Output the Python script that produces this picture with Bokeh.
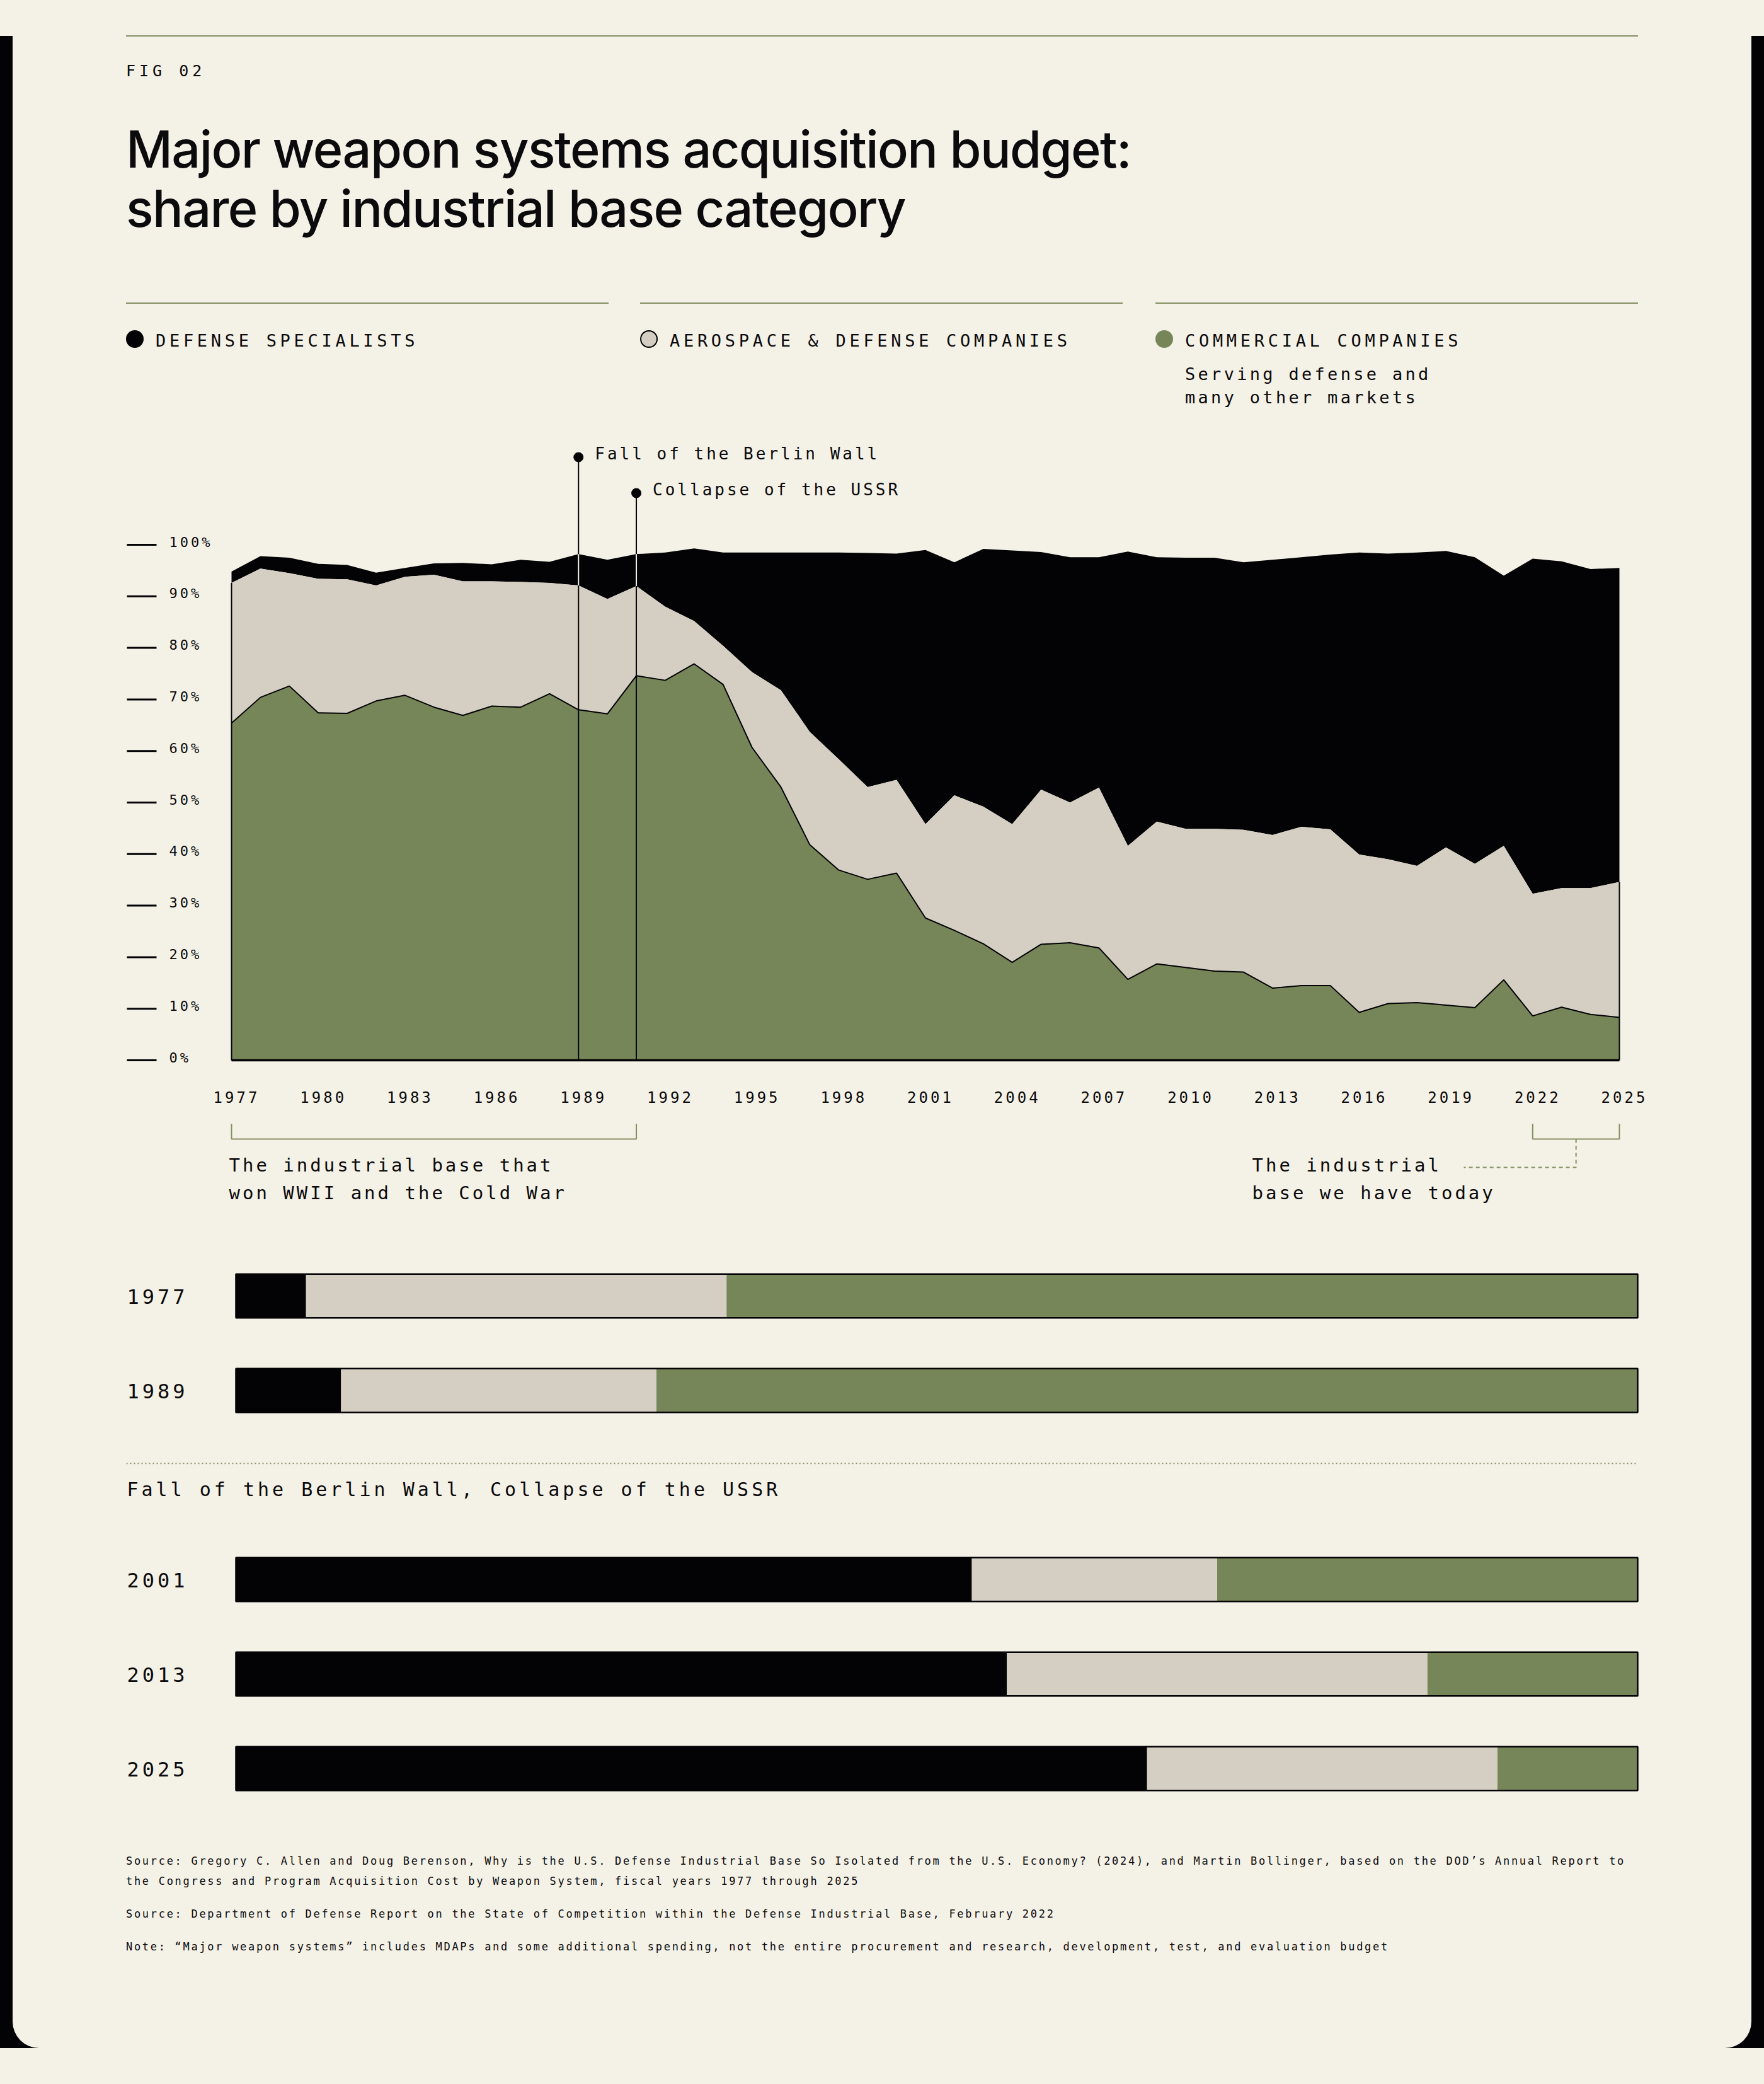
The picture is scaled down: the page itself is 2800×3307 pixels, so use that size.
import html

import numpy as np
from bokeh.core.properties import value
from bokeh.embed import file_html
from bokeh.layouts import column
from bokeh.models import ColumnDataSource, Div, GlobalInlineStyleSheet, Range1d
from bokeh.plotting import figure
from bokeh.resources import INLINE

CREAM = "#f4f1e6"
INK = "#0b0a0c"
BLACK = "#030205"
GRAY = "#d5cfc3"
GREEN = "#778658"
OLIVE = "#838f63"
MONO = "DejaVu Sans Mono"
SANS = "Inter"

# ---- data (shares in %) ----
years = list(range(1977, 2026))
commercial = [65.4, 70.4, 72.6, 67.4, 67.3, 69.7, 70.8, 68.5, 66.9, 68.7,
              68.5, 71.1, 68.0, 67.2, 74.6, 73.7, 76.9, 72.9, 60.7, 53.0,
              41.8, 36.9, 35.1, 36.3, 27.6, 25.2, 22.6, 19.0, 22.5, 22.8,
              21.8, 15.7, 18.7, 18.0, 17.3, 17.1, 14.0, 14.5, 14.5, 9.3,
              11.0, 11.2, 10.7, 10.2, 15.6, 8.6, 10.3, 8.9, 8.3]
aerospace = [27.2, 25.0, 21.9, 26.0, 26.0, 22.4, 23.0, 25.7, 26.0, 24.2,
             24.3, 21.5, 24.1, 22.3, 17.4, 14.3, 8.3, 7.5, 14.6, 18.8,
             21.9, 21.5, 17.9, 18.1, 18.2, 26.2, 26.6, 26.8, 30.0, 27.2,
             31.1, 25.9, 27.6, 26.9, 27.6, 27.6, 29.7, 30.8, 30.3, 30.6,
             28.0, 26.5, 30.6, 27.9, 26.0, 23.7, 23.1, 24.5, 26.3]
specialists = [2.2, 2.4, 3.0, 2.9, 2.8, 2.5, 1.7, 2.2, 3.6, 3.3,
               4.3, 4.1, 6.1, 7.6, 6.2, 10.5, 14.1, 18.1, 23.2, 26.7,
               34.8, 40.1, 45.4, 43.9, 53.2, 45.2, 50.0, 53.1, 46.1, 47.6,
               44.7, 57.1, 51.3, 52.6, 52.6, 51.9, 53.4, 52.3, 53.3, 58.6,
               59.3, 60.8, 57.5, 59.5, 52.4, 65.0, 63.4, 61.9, 60.9]

x_ticks = list(range(1977, 2026, 3))
pct_ticks = list(range(0, 101, 10))
pct_labels = [f"{v}%" for v in pct_ticks]

categories = ["DEFENSE SPECIALISTS", "AEROSPACE & DEFENSE COMPANIES", "COMMERCIAL COMPANIES"]
events = ["Fall of the Berlin Wall", "Collapse of the USSR"]
event_years = [1989, 1991]
periods = [(1977, 1991), (2022, 2025)]
period_notes = [["The industrial base that", "won WWII and the Cold War"],
                ["The industrial", "base we have today"]]

bar_years = ["1977", "1989", "2001", "2013", "2025"]
bar_specialists = [5.0, 7.5, 52.5, 55.0, 65.0]
bar_aerospace = [30.0, 22.5, 17.5, 30.0, 25.0]
bar_commercial = [65.0, 70.0, 30.0, 15.0, 10.0]

notes = [
    "Source: Gregory C. Allen and Doug Berenson, Why is the U.S. Defense Industrial Base So Isolated "
    "from the U.S. Economy? (2024), and Martin Bollinger, based on the DOD\u2019s Annual Report to",
    "the Congress and Program Acquisition Cost by Weapon System, fiscal years 1977 through 2025",
    "Source: Department of Defense Report on the State of Competition within the Defense Industrial Base, February 2022",
    "Note: \u201cMajor weapon systems\u201d includes MDAPs and some additional spending, not the entire "
    "procurement and research, development, test, and evaluation budget",
]

PAGE_W = 2800
SIDE = 20               # black strip on each side
W = PAGE_W - 2 * SIDE   # cream panel width
FRAME_L = 180           # content left edge inside the panel
CONTENT_W = 2400        # width of rules, bars and notes
FRAME_W = 2460          # plot frames (a bit wider so the last tick label fits)


def box(left, top, width, height, css):
    return (f'<div style="position:absolute;left:{left}px;top:{top}px;width:{width}px;'
            f'height:{height}px;{css}"></div>')


def txt(left, baseline, size, spacing, s, font=MONO, k=0.846):
    top = baseline - k * size
    return (f'<div style="position:absolute;left:{left}px;top:{top:.1f}px;font-family:\'{font}\';'
            f'font-size:{size}px;line-height:{size}px;letter-spacing:{spacing}px;white-space:nowrap;'
            f'color:{INK}">{s}</div>')


# ---- header ----
head_h = 650
parts = [box(FRAME_L, 56, CONTENT_W, 2, f"background:{OLIVE}"),
         txt(FRAME_L, 121, 25, 6, "FIG 02"),
         f'<div style="position:absolute;left:{FRAME_L}px;top:190px;font-family:\'{SANS}\';'
         f'font-size:81px;line-height:94px;letter-spacing:-1.6px;font-weight:500;color:{INK};white-space:nowrap">'
         'Major weapon systems acquisition budget:<br>share by industrial base category</div>']
legend_x = [180, 996, 1814]
dots = [f"background:{BLACK}", f"background:{GRAY};border:2px solid {BLACK};box-sizing:border-box",
        f"background:{GREEN}"]
for lx, name, dot in zip(legend_x, categories, dots):
    parts.append(box(lx, 480, 766, 2, f"background:{OLIVE}"))
    parts.append(box(lx, 524, 28, 28, f"border-radius:50%;{dot}"))
    parts.append(txt(lx + 47, 550, 27, 5.7, html.escape(name)))
parts.append(txt(legend_x[2] + 47, 603, 27, 4.3, "Serving defense and"))
parts.append(txt(legend_x[2] + 47, 640, 27, 4.3, "many other markets"))
header = Div(text=f'<div style="position:relative;width:{W}px;height:{head_h}px">' + "".join(parts) + "</div>",
             width=W, height=head_h, margin=(0, 0, 0, 0))

# ---- area chart ----
area_h = 1290
x0_px, x1_px = 167, 2370
y100_px, y0_px = 214, 1032
ppy = (x1_px - x0_px) / (years[-1] - years[0])
ppp = (y0_px - y100_px) / 100


def ax(px):
    return years[0] + (px - x0_px) / ppy


def ay(py):
    return (y0_px - py) / ppp


def frame_fig(height, x_range, y_range, spacing):
    p = figure(width=W, height=height, x_range=x_range, y_range=y_range,
               x_axis_location=None, y_axis_location=None, toolbar_location=None,
               output_backend="svg", min_border_left=FRAME_L, min_border_right=W - FRAME_L - FRAME_W,
               min_border_top=0, min_border_bottom=0, outline_line_color=None,
               background_fill_color=CREAM, border_fill_color=CREAM,
               styles={"letter-spacing": spacing})
    p.grid.grid_line_color = None
    return p


area = frame_fig(area_h, Range1d(ax(0), ax(FRAME_W)), Range1d(ay(area_h), ay(0)), "4px")

top_c = np.array(commercial)
top_a = top_c + np.array(aerospace)
top_s = top_a + np.array(specialists)
src = ColumnDataSource(dict(year=years, zero=np.zeros(len(years)), c=top_c, a=top_a, s=top_s))

area.varea(x="year", y1="a", y2="s", source=src, fill_color=BLACK)
area.varea(x="year", y1="c", y2="a", source=src, fill_color=GRAY)
area.varea(x="year", y1="zero", y2="c", source=src, fill_color=GREEN)
area.line("year", "c", source=src, line_color=BLACK, line_width=2)
area.segment(x0=[years[0], years[-1]], y0=[0, 0], x1=[years[0], years[-1]],
             y1=[top_a[0], top_a[-1]], line_color=BLACK, line_width=2)
area.segment(x0=years[0], y0=0, x1=years[-1], y1=0, line_color=BLACK, line_width=3.5)

# event markers
ev_idx = [years.index(y) for y in event_years]
ev_dot_y = [ay(75), ay(132)]
area.segment(x0=event_years, y0=[0] * len(event_years), x1=event_years, y1=ev_dot_y,
             line_color=BLACK, line_width=2)
area.segment(x0=event_years, y0=[top_a[i] for i in ev_idx], x1=event_years,
             y1=[top_s[i] for i in ev_idx], line_color=CREAM, line_width=2)
area.scatter(x=event_years, y=ev_dot_y, size=15, color=BLACK)


def label(p, x, y, text, size, **kw):
    p.text(x=x, y=y, text=text, text_font=value(MONO), text_font_size=f"{size}px",
           text_color=INK, **kw)


label(area, event_years, ev_dot_y, events, 26, x_offset=26, y_offset=9)

# y ticks
area.segment(x0=ax(1), x1=ax(48), y0=pct_ticks, y1=pct_ticks, line_color=BLACK, line_width=3)
label(area, [ax(68)] * len(pct_ticks), pct_ticks, pct_labels, 22, y_offset=8)
# x ticks
label(area, x_ticks, [0] * len(x_ticks), [str(t) for t in x_ticks], 24,
      y_offset=67, text_align="center")

# period brackets
yt, yb = ay(1133), ay(1157)
area.multi_line(xs=[[a, a, b, b] for a, b in periods], ys=[[yt, yb, yb, yt]] * len(periods),
                line_color=OLIVE, line_width=2)
mid = (periods[1][0] + periods[1][1]) / 2
area.line(x=[mid, mid, ax(2123)], y=[yb, ay(1202), ay(1202)], line_color=OLIVE,
          line_width=2, line_dash="6 5")
label(area, [periods[0][0]] * 2, [ay(1215), ay(1259)], period_notes[0], 29, x_offset=-4)
label(area, [ax(1787)] * 2, [ay(1215), ay(1259)], period_notes[1], 29)

# ---- stacked bars ----
bars_h = 940
row_px, row0_px = 150, 116
bar_x0_px, bar_ppu = 174, 22.25


def bx(px):
    return (px - bar_x0_px) / bar_ppu


bars = frame_fig(bars_h, Range1d(bx(0), bx(FRAME_W)),
                 Range1d((bars_h - row0_px) / row_px, -row0_px / row_px), "5px")

rows = [i + (1 if i >= 2 else 0) for i in range(len(bar_years))]
totals = [s + a + c for s, a, c in zip(bar_specialists, bar_aerospace, bar_commercial)]
src_b = ColumnDataSource(dict(row=rows, s=bar_specialists, a=bar_aerospace, c=bar_commercial,
                              total=totals, zero=[0] * len(rows)))
bar_h = 69.4 / row_px
bars.hbar_stack(["s", "a", "c"], y="row", height=bar_h, fill_color=[BLACK, GRAY, GREEN],
                line_color=None, source=src_b)
bars.hbar(y="row", left="zero", right="total", height=bar_h, fill_color=None,
          line_color=BLACK, line_width=2.5, source=src_b)
label(bars, [bx(1)] * len(rows), rows, bar_years, 32, y_offset=12)

sep_row = (381.7 - row0_px) / row_px
bars.segment(x0=bx(0), x1=bx(CONTENT_W), y0=sep_row, y1=sep_row,
             line_color=OLIVE, line_width=2, line_dash="2 4")
label(bars, [bx(1)], [(440 - row0_px) / row_px], [", ".join(events)], 30)

# ---- footnotes ----
notes_h = 370
note_base = [79, 111, 163, 215]
foot = Div(text=f'<div style="position:relative;width:{W}px;height:{notes_h}px">'
           + "".join(txt(FRAME_L, b, 17, 2.7, html.escape(n)) for b, n in zip(note_base, notes))
           + "</div>", width=W, height=notes_h, margin=(0, 0, 0, 0))

panel = column(header, area, bars, foot, width=W, margin=(0, SIDE, 0, SIDE),
               styles={"background-color": CREAM, "border-radius": "0 0 42px 42px"})
root = column(panel, width=PAGE_W,
              styles={"background": f"linear-gradient(to bottom, {CREAM} 57px, {BLACK} 57px)"},
              stylesheets=[GlobalInlineStyleSheet(css=f"body {{ background: {CREAM}; margin: 0; }}")])

open("out.html", "w").write(file_html(root, INLINE))
